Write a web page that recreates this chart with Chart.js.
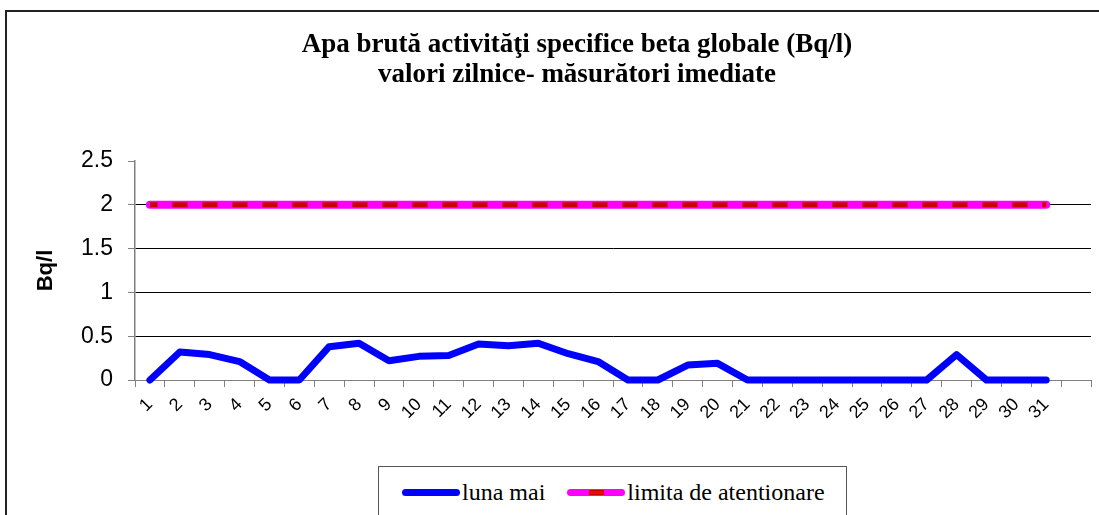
<!DOCTYPE html>
<html>
<head>
<meta charset="utf-8">
<script src="https://cdn.jsdelivr.net/npm/chart.js@4.4.0/dist/chart.umd.min.js"></script>
<style>
  html, body { margin: 0; padding: 0; background: #fff; overflow: hidden; }
  #wrap { position: relative; width: 1099px; height: 515px; overflow: hidden; }
  #frame { position: absolute; left: 5px; top: 10px; width: 1200px; height: 600px;
           border-top: 2px solid #222; border-left: 2px solid #222; }
  #chart { position: absolute; left: 0; top: 0; }
  #legend { position: absolute; left: 378px; top: 466px; width: 469px; height: 70px;
            border: 1px solid #555; background: #fff; display: flex; align-items: flex-start;
            padding-left: 23px; box-sizing: border-box; white-space: nowrap;
            font-family: 'Liberation Serif', 'Times New Roman', serif; font-size: 24px; color: #000; }
  .item { display: flex; align-items: center; margin-right: 22px; height: 50px; flex: none; }
  .swatch { position: relative; width: 58px; height: 7px; border-radius: 4px; margin-right: 2px; flex: none; }
  .dash { position: absolute; left: 22px; top: 1px; width: 15px; height: 5px; box-sizing: border-box;
          background: #ff0000; border: 1px solid #c00000; }
</style>
</head>
<body>
<div id="wrap">
  <div id="frame"></div>
  <canvas id="chart" width="1099" height="515"></canvas>
  <div id="legend"></div>
</div>
<script>
// Data
const days = ['1','2','3','4','5','6','7','8','9','10','11','12','13','14','15','16',
              '17','18','19','20','21','22','23','24','25','26','27','28','29','30','31'];
const lunaMai = [0, 0.32, 0.29, 0.21, 0, 0, 0.38, 0.42, 0.22, 0.27, 0.28, 0.41, 0.39, 0.42, 0.30, 0.21,
                 0, 0, 0.17, 0.19, 0, 0, 0, 0, 0, 0, 0, 0.29, 0, 0, 0];
const limita = [2, 2, 2, 2, 2, 2, 2, 2, 2, 2, 2, 2, 2, 2, 2, 2,
                2, 2, 2, 2, 2, 2, 2, 2, 2, 2, 2, 2, 2, 2, 2];
const yTicks = [0, 0.5, 1, 1.5, 2, 2.5];
const titleLines = ['Apa brută activităţi specifice beta globale (Bq/l)', 'valori zilnice- măsurători imediate'];

const SANS = "'Liberation Sans', Arial, sans-serif";
const SERIF = "'Liberation Serif', 'Times New Roman', serif";

// one empty category at the end, like the original axis
const labels = days.concat(['']);

// title is not centred on the canvas in the original, so draw it ourselves
const titlePlugin = {
    id: 'titleLines',
    afterDraw(chart) {
        const ctx = chart.ctx;
        ctx.save();
        ctx.fillStyle = '#000';
        ctx.font = 'bold 27px ' + SERIF;
        ctx.textAlign = 'center';
        ctx.textBaseline = 'middle';
        titleLines.forEach((t, i) => ctx.fillText(t, 577, 45 + i * 30));
        ctx.restore();
    }
};

const chart = new Chart(document.getElementById('chart'), {
    type: 'line',
    data: {
        labels: labels,
        datasets: [
            {
                label: 'limita de atentionare (dash)',
                data: limita,
                borderColor: '#c80000',
                borderWidth: 5,
                borderDash: [15, 15],
                borderDashOffset: 7.5,
                pointRadius: 0,
                clip: false,
                order: 0
            },
            {
                label: 'limita de atentionare (dash inner)',
                data: limita,
                borderColor: '#ff0000',
                borderWidth: 3,
                borderDash: [15, 15],
                borderDashOffset: 7.5,
                pointRadius: 0,
                clip: false,
                order: 0
            },
            {
                label: 'limita de atentionare',
                data: limita,
                borderColor: '#ff00ff',
                borderWidth: 8,
                borderCapStyle: 'round',
                pointRadius: 0,
                clip: false,
                order: 1
            },
            {
                label: 'luna mai',
                data: lunaMai,
                borderColor: '#0000ff',
                borderWidth: 7,
                borderCapStyle: 'round',
                borderJoinStyle: 'round',
                pointRadius: 0,
                tension: 0,
                clip: false,
                order: 2
            }
        ]
    },
    options: {
        responsive: false,
        animation: false,
        layout: { padding: { left: 0, right: 8, top: 161, bottom: 0 } },
        plugins: {
            legend: { display: false },
            tooltip: { enabled: false },
            title: { display: false }
        },
        scales: {
            x: {
                offset: true,
                grid: { drawOnChartArea: false, offset: true, color: '#808080', tickLength: 7 },
                border: { color: '#808080', width: 1 },
                ticks: {
                    color: '#000', autoSkip: false, maxRotation: 45, minRotation: 45, padding: 7,
                    font: { family: SANS, size: 18 }
                },
                afterFit: s => { s.height = 135; }
            },
            y: {
                min: 0, max: 2.5,
                afterBuildTicks: s => { s.ticks = yTicks.map(v => ({ value: v })); },
                grid: {
                    color: c => c.tick.value === 0 ? '#808080' : (c.tick.value === 2.5 ? 'rgba(0,0,0,0)' : '#000'),
                    tickColor: '#808080',
                    tickLength: 7
                },
                border: { color: '#808080', width: 1.5 },
                ticks: {
                    color: '#000', padding: 15, font: { family: SANS, size: 23 },
                    callback: v => String(v)
                },
                title: {
                    display: true, text: 'Bq/l', color: '#000',
                    font: { family: SANS, size: 22, weight: 'bold', lineHeight: 1.2 },
                    padding: { top: 33, bottom: 0 }
                },
                afterFit: s => { s.width = 135; }
            }
        }
    },
    plugins: [titlePlugin]
});

// legend built from the two visible series
const legendEl = document.getElementById('legend');
const legendItems = [
    { label: 'luna mai', color: '#0000ff', dash: false },
    { label: 'limita de atentionare', color: '#ff00ff', dash: true }
];
legendItems.forEach(it => {
    const item = document.createElement('div');
    item.className = 'item';
    const sw = document.createElement('span');
    sw.className = 'swatch';
    sw.style.background = it.color;
    if (it.dash) {
        const d = document.createElement('span');
        d.className = 'dash';
        sw.appendChild(d);
    }
    const tx = document.createElement('span');
    tx.textContent = it.label;
    item.appendChild(sw);
    item.appendChild(tx);
    legendEl.appendChild(item);
});
</script>
</body>
</html>
